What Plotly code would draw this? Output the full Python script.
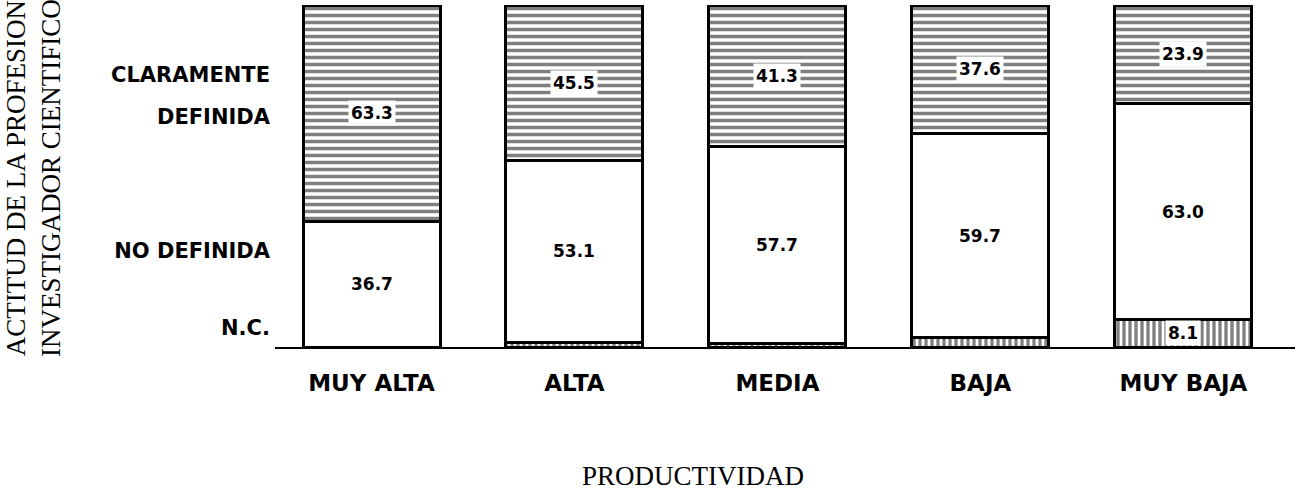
import plotly.graph_objects as go

categories = ["MUY ALTA", "ALTA", "MEDIA", "BAJA", "MUY BAJA"]
# segment heights as drawn (percent)
nc_vals = [0.0, 1.4, 1.0, 2.7, 8.1]
no_def_vals = [36.7, 53.1, 57.7, 59.7, 63.0]
clara_vals = [63.3, 45.5, 41.3, 37.6, 28.9]
# printed labels
nc_labels = ["", "", "", "", "8.1"]
no_def_labels = ["36.7", "53.1", "57.7", "59.7", "63.0"]
clara_labels = ["63.3", "45.5", "41.3", "37.6", "23.9"]

y_tick_vals = [79.5, 67.5, 28.1, 5.8]
y_tick_text = ["CLARAMENTE", "DEFINIDA", "NO DEFINIDA", "N.C."]

LBL = dict(family="DejaVu Sans", size=17, color="black", weight="bold")
SERIF = dict(family="Liberation Serif", size=27, color="black")

fig = go.Figure()
fig.add_trace(go.Bar(
    x=categories, y=nc_vals, name="N.C.",
    marker=dict(color="white", line=dict(color="black", width=3),
                pattern=dict(shape="|", fgcolor="black", bgcolor="white",
                             size=6, solidity=0.55, fillmode="overlay")),
    showlegend=False, hoverinfo="skip"))
fig.add_trace(go.Bar(
    x=categories, y=no_def_vals, name="NO DEFINIDA",
    marker=dict(color="white", line=dict(color="black", width=3)),
    showlegend=False, hoverinfo="skip"))
fig.add_trace(go.Bar(
    x=categories, y=clara_vals, name="CLARAMENTE DEFINIDA",
    marker=dict(color="white", line=dict(color="black", width=3),
                pattern=dict(shape="-", fgcolor="black", bgcolor="white",
                             size=7, solidity=0.5, fillmode="overlay")),
    showlegend=False, hoverinfo="skip"))

annotations = []
for i, c in enumerate(categories):
    base = 0.0
    for vals, labs in ((nc_vals, nc_labels), (no_def_vals, no_def_labels), (clara_vals, clara_labels)):
        v = vals[i]
        if labs[i]:
            annotations.append(dict(x=c, y=base + v / 2, xref="x", yref="y",
                                    text=labs[i], showarrow=False, font=LBL,
                                    bgcolor="white", borderpad=2))
        base += v

annotations.append(dict(x=(33 - 275) / 1020, y=0.494, xref="paper", yref="paper",
                        text="ACTITUD DE LA PROFESION<br>INVESTIGADOR CIENTIFICO",
                        textangle=-90, showarrow=False, font=SERIF,
                        xanchor="center", yanchor="middle"))
annotations.append(dict(x=(693 - 275) / 1020, y=(347 - 476) / 342, xref="paper", yref="paper",
                        text="PRODUCTIVIDAD", showarrow=False, font=SERIF,
                        xanchor="center", yanchor="middle"))

fig.update_layout(
    barmode="stack", bargap=0.325,
    width=1310, height=491,
    margin=dict(l=275, r=15, t=5, b=144),
    paper_bgcolor="white", plot_bgcolor="white",
    annotations=annotations,
    xaxis=dict(range=[-0.4756, 4.55], showline=True, linecolor="black", linewidth=2,
               ticks="", showgrid=False, zeroline=False, ticklabelstandoff=14,
               tickfont=dict(family="DejaVu Sans", size=23, color="black", weight="bold")),
    yaxis=dict(range=[0, 100], showline=False, showgrid=False, zeroline=False,
               tickvals=y_tick_vals, ticktext=y_tick_text, ticks="",
               ticklabelstandoff=4,
               tickfont=dict(family="DejaVu Sans", size=21, color="black", weight="bold")),
)

fig.write_html("out.html", config={"displayModeBar": False},
               post_script="document.body.style.margin='0';document.body.style.overflow='hidden';")
